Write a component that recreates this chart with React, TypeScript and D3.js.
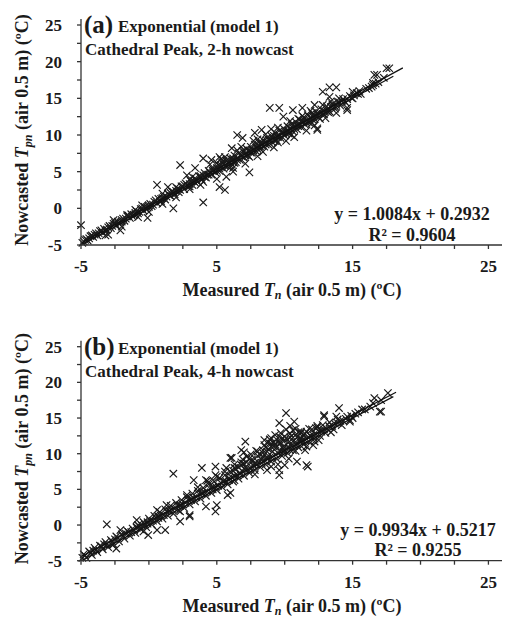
import React from "react";
import * as d3 from "d3";

// tick values shared by both panels
const xTickValues = [-5, 5, 15, 25];
const yTickValues = [-5, 0, 5, 10, 15, 20, 25];

// panel (a): 2-h nowcast, [measured, nowcasted]
const pointsA: [number, number][] = [
  [-4.8, -4.5], [-4.6, -4.2], [-4.5, -4.4], [-4.3, -3.8], [-4.1, -3.9], [-3.9, -3.4], [-3.8, -3.7], [-3.6, -3.1],
  [-3.4, -3.3], [-3.3, -2.8], [-3.1, -2.9], [-2.9, -2.4], [-2.8, -2.7], [-2.6, -2.1], [-2.4, -2.3], [-2.3, -1.8],
  [-2.1, -1.9], [-1.9, -1.4], [-1.8, -1.7], [-1.6, -1.1], [-1.4, -1.3], [-1.3, -0.8], [-1.1, -0.9], [-0.9, -0.4],
  [-0.8, -0.7], [-0.6, -0.1], [-0.4, -0.3], [-0.3, 0.2], [-0.1, 0.1], [0.1, 0.6], [0.2, 0.3], [0.4, 0.9],
  [0.6, 0.7], [0.7, 1.3], [0.9, 1.0], [1.1, 1.6], [1.2, 1.2], [1.4, 2.0], [1.6, 1.7], [1.7, 2.3],
  [1.9, 1.9], [2.1, 2.7], [2.2, 2.2], [2.4, 3.0], [2.6, 2.6], [2.7, 3.4], [2.9, 3.0], [3.1, 3.7],
  [3.2, 3.2], [3.4, 4.1], [3.6, 3.6], [3.7, 4.4], [3.9, 3.9], [4.1, 4.8], [4.2, 4.2], [4.4, 5.1],
  [4.6, 4.6], [4.7, 5.4], [4.9, 4.9], [5.1, 5.9], [5.2, 5.1], [5.4, 6.2], [5.5, 5.4], [5.7, 6.5],
  [5.8, 5.7], [6.0, 6.8], [6.1, 6.0], [6.3, 7.2], [6.4, 6.3], [6.6, 7.5], [6.7, 6.6], [6.9, 7.8],
  [7.0, 6.9], [7.2, 8.1], [7.3, 7.2], [7.5, 8.4], [7.6, 7.6], [7.8, 8.7], [7.9, 7.8], [8.1, 9.0],
  [8.2, 8.1], [8.4, 9.3], [8.5, 8.4], [8.7, 9.6], [8.8, 8.7], [9.0, 9.9], [9.1, 9.0], [9.3, 10.3],
  [9.4, 9.3], [9.6, 10.6], [9.7, 9.6], [9.9, 10.9], [10.0, 9.9], [10.2, 11.2], [10.3, 10.2], [10.5, 11.5],
  [10.6, 10.5], [10.8, 11.8], [10.9, 10.8], [11.1, 12.1], [11.2, 11.1], [11.4, 12.4], [11.5, 11.4], [11.7, 12.7],
  [11.8, 11.7], [12.0, 13.0], [12.1, 12.0], [12.3, 13.2], [12.5, 12.4], [12.7, 13.5], [12.9, 12.8], [13.1, 13.9],
  [13.3, 13.2], [13.5, 14.2], [13.7, 13.6], [13.9, 14.5], [14.1, 14.0], [14.3, 14.9], [14.5, 14.4], [14.8, 15.3],
  [15.0, 15.0], [15.3, 15.7], [15.6, 15.6], [16.0, 16.3], [16.4, 16.6], [16.9, 17.2], [17.3, 17.8],
  [-4.7, -4.3], [-4.4, -4.1], [-4.0, -3.6], [-3.7, -3.4], [-3.5, -3.0], [-3.2, -3.1], [-2.7, -2.4], [-2.5, -2.0],
  [-2.2, -2.1], [-2.0, -1.6], [-1.7, -1.4], [-1.5, -1.0], [-1.2, -1.1], [-1.0, -0.6], [-0.7, -0.5], [-0.5, 0.0],
  [-0.2, -0.1], [0.0, 0.4], [0.3, 0.5], [0.5, 1.1], [0.8, 0.9], [1.0, 1.4], [1.3, 1.6], [1.5, 1.8],
  [1.8, 2.2], [2.0, 2.4], [2.3, 2.5], [2.5, 3.0], [2.8, 3.2], [3.0, 3.3], [3.3, 3.7], [3.5, 3.9],
  [3.8, 4.2], [4.0, 4.5], [4.3, 4.6], [4.5, 4.9], [4.8, 5.2], [5.0, 5.5], [5.3, 5.6], [5.5, 6.0],
  [5.8, 6.2], [6.0, 6.3], [6.2, 6.6], [6.5, 6.9], [6.8, 7.1], [7.1, 7.5], [7.3, 7.8], [7.6, 8.0],
  [7.9, 8.3], [8.1, 8.5], [8.3, 8.8], [8.6, 9.0], [8.9, 9.3], [9.1, 9.5], [9.4, 9.8], [9.6, 10.0],
  [9.9, 10.3], [10.1, 10.5], [10.4, 10.8], [10.6, 11.0], [10.9, 11.3], [11.1, 11.5], [11.4, 11.8], [11.6, 12.0],
  [11.9, 12.3], [12.1, 12.5], [12.4, 12.8], [12.6, 13.0], [12.9, 13.3], [13.2, 13.6], [13.5, 13.9], [13.8, 14.1],
  [14.2, 14.6], [14.6, 14.9], [15.1, 15.4], [15.5, 16.0], [16.2, 16.4], [16.7, 17.0], [8.0, 9.4], [9.5, 9.0],
  [10.5, 10.0], [11.0, 12.2], [12.0, 11.6], [7.0, 7.9], [6.0, 5.6], [5.0, 6.2], [4.0, 3.6], [3.0, 2.6],
  [2.0, 2.9], [1.0, 0.6], [9.2, 9.9], [10.2, 10.6], [11.2, 11.9], [12.2, 12.6], [8.2, 8.4], [7.2, 7.3],
  [6.2, 6.8], [5.2, 5.4],
  [-4.9, -4.7], [-4.2, -3.7], [-3.0, -2.6], [-2.0, -1.8], [-1.0, -0.8], [0.0, 0.2], [0.9, 1.3], [1.6, 2.1],
  [2.2, 2.6], [2.6, 3.2], [3.0, 3.0], [3.4, 3.5], [3.8, 4.4], [4.1, 4.3], [4.4, 4.6], [4.7, 5.1],
  [5.0, 5.1], [5.3, 5.9], [5.6, 5.8], [5.9, 6.4], [6.2, 6.3], [6.5, 6.6], [6.8, 7.3], [7.1, 7.2],
  [7.4, 7.9], [7.7, 7.9], [8.0, 8.1], [8.3, 9.0], [8.6, 8.7], [8.9, 9.4], [9.2, 9.4], [9.5, 9.7],
  [9.8, 10.3], [10.1, 10.2], [10.4, 10.9], [10.7, 10.8], [11.0, 11.2], [11.3, 11.8], [11.6, 11.7], [11.9, 12.4],
  [12.2, 12.2], [12.5, 12.9], [12.8, 12.9], [13.1, 13.3], [13.4, 13.8], [13.7, 13.9], [14.0, 14.5], [14.4, 14.6],
  [14.9, 15.1], [15.4, 15.6], [5.5, 6.5], [6.3, 6.2], [7.5, 7.6], [8.7, 9.2], [9.3, 9.2], [10.3, 10.6],
  [10.8, 11.2], [11.8, 12.1], [12.3, 12.6], [13.2, 13.1],
  [4.5, 6.0], [5.0, 4.0], [5.6, 7.0], [6.2, 5.0], [6.8, 8.4], [7.1, 6.1], [7.7, 9.2], [8.0, 7.1],
  [8.6, 10.1], [9.2, 8.3], [9.5, 11.0], [10.1, 9.2], [10.4, 11.9], [10.7, 9.7], [11.3, 12.6], [11.6, 10.6],
  [11.9, 13.3], [12.2, 11.3], [12.8, 14.1], [13.0, 12.3], [13.4, 14.6], [13.8, 13.0], [6.5, 7.9], [7.4, 7.0],
  [8.3, 8.6], [9.8, 10.4], [11.0, 11.5], [3.0, 3.9], [2.0, 1.5], [1.0, 2.0], [0.0, -0.5], [-1.0, -0.2],
  [-2.0, -2.5], [3.8, 3.2], [5.3, 6.7], [9.0, 10.8], [12.6, 12.2],
  [-5.0, -2.3], [-3.2, -3.7], [-3.0, -3.6], [-2.1, -3.0], [-2.6, -1.6], [-1.6, -0.9], [-0.8, -1.2], [-0.1, -1.3],
  [-0.5, 0.4], [0.6, 3.2], [1.4, 2.9], [1.8, 0.0], [2.3, 5.9], [2.8, 4.5], [3.4, 5.5], [4.0, 6.8],
  [4.0, 0.8], [5.2, 2.9], [5.6, 2.5], [5.2, 7.0], [6.5, 10.0], [6.1, 8.2], [5.7, 4.3], [4.6, 6.6],
  [3.2, 4.3], [8.9, 13.7], [9.6, 13.7], [9.9, 12.5], [10.6, 13.4], [11.3, 13.7], [12.2, 14.1], [12.8, 15.9],
  [13.3, 16.5], [13.8, 16.5], [13.3, 15.2], [14.0, 15.0], [14.6, 13.7], [15.0, 15.9], [12.4, 10.7], [16.6, 18.2],
  [17.5, 19.1], [16.5, 17.1], [7.4, 4.9], [6.9, 9.6], [7.8, 10.3], [8.3, 10.7], [6.2, 5.5], [8.4, 7.7],
  [17.7, 19.1], [16.8, 18.2], [16.5, 16.8], [12.4, 10.9], [14.6, 13.4],
];

// panel (b): 4-h nowcast, [measured, nowcasted]
const pointsB: [number, number][] = [
  [-4.8, -4.1], [-4.6, -4.6], [-4.4, -3.7], [-4.2, -4.2], [-4.0, -3.2], [-3.8, -3.8], [-3.6, -2.9], [-3.4, -3.4],
  [-3.2, -2.4], [-3.0, -3.1], [-2.8, -2.1], [-2.6, -2.7], [-2.4, -1.6], [-2.2, -2.3], [-2.0, -1.3], [-1.8, -1.9],
  [-1.6, -0.8], [-1.4, -1.5], [-1.2, -0.5], [-1.0, -1.1], [-0.8, 0.0], [-0.6, -0.6], [-0.4, 0.4], [-0.2, -0.3],
  [0.0, 0.9], [0.2, 0.1], [0.4, 1.3], [0.6, 0.5], [0.8, 1.8], [1.0, 0.9], [1.2, 2.2], [1.4, 1.3],
  [1.6, 2.7], [1.8, 1.6], [2.0, 3.1], [2.2, 2.0], [2.4, 3.5], [2.6, 2.4], [2.8, 3.9], [3.0, 2.9],
  [3.2, 4.4], [3.4, 3.3], [3.6, 4.8], [3.8, 3.7], [4.0, 5.2], [4.2, 4.1], [4.4, 5.7], [4.6, 4.5],
  [4.8, 6.1], [5.0, 4.9], [5.2, 6.6], [5.4, 5.3], [5.6, 7.0], [5.8, 5.7], [6.0, 7.5], [6.2, 6.1],
  [6.4, 7.9], [6.6, 6.5], [6.8, 8.4], [7.0, 6.9], [7.2, 8.8], [7.4, 7.3], [7.6, 9.2], [7.8, 7.7],
  [8.0, 9.7], [8.2, 8.1], [8.4, 10.1], [8.6, 8.5], [8.8, 10.6], [9.0, 8.9], [9.2, 11.0], [9.4, 9.3],
  [9.6, 11.4], [9.8, 9.7], [10.0, 11.9], [10.2, 10.1], [10.4, 12.3], [10.6, 10.5], [10.8, 12.6], [11.0, 10.9],
  [11.2, 12.9], [11.4, 11.3], [11.6, 13.1], [11.8, 11.7], [12.0, 13.4], [12.2, 12.1], [12.4, 13.7], [12.6, 12.5],
  [12.8, 14.0], [13.0, 12.9], [13.3, 14.4], [13.6, 13.4], [13.9, 14.8], [14.2, 14.0], [14.6, 15.2], [15.0, 15.0],
  [15.4, 15.8], [15.9, 16.2], [16.5, 17.1], [17.1, 17.5],
  [-4.7, -4.3], [-4.3, -3.9], [-3.9, -3.5], [-3.5, -3.0], [-3.1, -2.7], [-2.7, -2.3], [-2.3, -1.8], [-1.9, -1.5],
  [-1.5, -1.0], [-1.1, -0.7], [-0.7, -0.2], [-0.3, 0.1], [0.1, 0.6], [0.5, 1.0], [0.9, 1.3], [1.3, 1.9],
  [1.7, 2.2], [2.1, 2.7], [2.5, 2.9], [2.9, 3.5], [3.3, 3.8], [3.7, 4.3], [4.1, 4.6], [4.5, 5.1],
  [4.9, 5.4], [5.3, 5.9], [5.7, 6.1], [6.1, 6.7], [6.5, 7.0], [6.9, 7.5], [7.3, 7.8], [7.7, 8.3],
  [8.1, 8.7], [8.5, 9.1], [8.9, 9.5], [9.3, 9.9], [9.7, 10.3], [10.1, 10.7], [10.5, 11.1], [10.9, 11.5],
  [11.3, 11.8], [11.7, 12.3], [12.1, 12.6], [12.5, 13.1], [12.9, 13.4], [13.3, 13.8], [13.7, 14.2], [14.1, 14.6],
  [14.5, 14.9], [15.2, 15.6], [15.7, 16.2], [16.3, 16.6], [8.0, 10.3], [8.6, 10.9], [9.2, 11.6], [9.8, 12.1],
  [10.4, 12.8], [11.0, 13.0], [9.0, 11.4], [9.6, 12.4], [10.2, 12.0], [7.4, 9.3], [6.8, 8.8], [6.2, 7.6],
  [5.6, 7.5], [8.8, 11.6], [10.6, 13.3], [11.4, 12.6], [7.0, 8.6], [9.4, 10.9], [10.0, 10.4], [8.2, 9.9],
  [11.8, 13.5], [12.4, 13.9], [5.0, 6.8], [4.4, 6.0], [3.6, 5.3], [7.8, 7.1], [9.0, 8.2], [10.8, 10.4],
  [11.6, 11.0], [12.2, 11.7],
  [-4.9, -4.6], [-4.1, -3.6], [-3.3, -2.7], [-2.5, -2.0], [-1.7, -1.2], [-0.9, -0.3], [-0.1, 0.4], [0.7, 1.2],
  [1.5, 2.0], [2.3, 2.7], [3.1, 3.5], [3.9, 4.4], [4.3, 4.7], [4.7, 5.3], [5.1, 5.5], [5.5, 6.1],
  [5.9, 6.3], [6.3, 6.9], [6.7, 7.2], [7.1, 7.7], [7.5, 7.9], [7.9, 8.5], [8.3, 8.7], [8.7, 9.3],
  [9.1, 9.5], [9.5, 10.1], [9.9, 10.3], [10.3, 10.9], [10.7, 11.1], [11.1, 11.7], [11.5, 11.9], [11.9, 12.5],
  [12.3, 12.7], [12.7, 13.3], [13.1, 13.5], [13.5, 13.9], [13.9, 14.3], [14.3, 14.6], [14.9, 15.3], [8.4, 10.5],
  [9.0, 11.0], [9.5, 11.8], [10.0, 12.4], [10.5, 12.5], [9.3, 11.3], [8.7, 10.3], [10.9, 12.3], [11.5, 12.8],
  [7.6, 8.9], [7.2, 9.6], [6.6, 8.1], [9.7, 11.6], [10.3, 11.6], [11.2, 12.1],
  [8.5, 11.2], [8.9, 12.0], [9.3, 12.6], [9.7, 12.9], [10.1, 13.4], [10.4, 13.9], [10.8, 13.5], [9.9, 11.0],
  [9.1, 10.3], [10.6, 11.7], [11.1, 12.2], [8.3, 9.2], [7.9, 10.4], [7.5, 9.9], [7.1, 8.1], [6.7, 7.2],
  [6.3, 8.5], [5.9, 6.6], [5.5, 6.2], [5.1, 5.6], [4.7, 5.0], [4.3, 6.2], [3.9, 4.5], [3.5, 3.9],
  [3.1, 3.6], [2.7, 3.1], [2.3, 2.8], [1.9, 2.3], [1.5, 1.9], [1.1, 1.4], [0.7, 1.0], [0.3, 0.6],
  [-0.1, 0.2], [-0.5, -0.1], [-0.9, -0.4], [-1.3, -1.0], [9.5, 8.5], [10.3, 9.3], [11.5, 10.5], [12.1, 11.2],
  [12.7, 13.1], [13.4, 13.0], [11.9, 12.5], [11.3, 11.9], [10.9, 11.3], [6.9, 9.2], [7.7, 8.4], [8.7, 9.5],
  [9.9, 10.7],
  [-3.1, 0.1], [-2.1, -0.7], [-2.4, -3.3], [-2.7, -2.8], [1.8, 7.2], [-0.05, -1.4], [-0.4, -0.9], [0.6, -0.7],
  [1.2, -0.7], [2.3, 0.5], [3.0, 1.2], [4.2, 2.6], [4.9, 1.9], [5.0, 2.8], [3.9, 8.0], [4.9, 8.2],
  [5.7, 8.0], [6.1, 9.4], [3.3, 6.3], [5.8, 4.2], [1.3, 2.8], [0.6, 2.1], [-0.9, 0.7], [2.3, 1.9],
  [3.0, 1.4], [2.8, 4.2], [4.2, 6.3], [4.9, 7.0], [10.1, 15.7], [9.6, 14.3], [10.7, 14.5], [7.1, 11.7],
  [6.0, 9.4], [7.0, 10.2], [6.3, 8.0], [6.3, 6.3], [6.0, 4.5], [9.6, 7.0], [10.9, 8.9], [11.7, 8.2],
  [12.9, 15.4], [14.0, 16.4], [13.8, 15.2], [12.3, 13.6], [14.8, 14.5], [16.6, 17.8], [17.1, 15.9], [17.6, 18.5],
  [8.5, 11.9], [9.0, 12.2], [11.2, 13.1], [8.4, 9.6], [7.8, 8.7], [10.0, 8.4], [8.7, 7.7], [9.6, 7.7],
  [10.4, 10.5], [12.5, 11.9], [13.3, 13.8], [14.8, 14.7], [6.8, 10.5], [12.9, 15.2], [17.0, 15.9], [11.6, 8.4],
];

const panels = [
  {
    key: "a",
    letter: "(a)",
    model: "Exponential (model 1)",
    site: "Cathedral Peak, 2-h nowcast",
    points: pointsA,
    slope: 1.0084,
    intercept: 0.2932,
    fitEnd: 18.7,
    equation: "y = 1.0084x + 0.2932",
    r2: "R² = 0.9604",
    top: 25,
    bottom: 245,
    eqX: 412,
  },
  {
    key: "b",
    letter: "(b)",
    model: "Exponential (model 1)",
    site: "Cathedral Peak, 4-h nowcast",
    points: pointsB,
    slope: 0.9934,
    intercept: 0.5217,
    fitEnd: 18.2,
    equation: "y = 0.9934x + 0.5217",
    r2: "R² = 0.9255",
    top: 346.7,
    bottom: 560.7,
    eqX: 418,
  },
];

const font = "'Liberation Serif', 'Times New Roman', serif";
const ink = "#1a1a1a";

const Panel = ({ p }: { p: (typeof panels)[number] }) => {
  const x = d3.scaleLinear().domain([-5, 26]).range([81, 502]);
  const y = d3.scaleLinear().domain([-5, 25]).range([p.bottom, p.top]);
  const minor = d3.range(-5, 25.01, 2.5);
  const line = d3
    .line<[number, number]>()
    .x((d) => x(d[0]))
    .y((d) => y(d[1]));
  const fitLine: [number, number][] = [
    [-5, p.slope * -5 + p.intercept],
    [p.fitEnd, p.slope * p.fitEnd + p.intercept],
  ];
  const oneToOne: [number, number][] = [
    [-5, -5],
    [18, 18],
  ];
  const midY = (p.top + p.bottom) / 2 - 5;

  return (
    <g fontFamily={font} fontWeight="bold" fill={ink}>
      {/* points */}
      <g stroke="#1a1a1a" strokeWidth={1.15} fill="none">
        {p.points.map((d, i) => (
          <path
            key={i}
            transform={`translate(${x(d[0])},${y(d[1])})`}
            d="M-3.7,-3.7L3.7,3.7M-3.7,3.7L3.7,-3.7"
          />
        ))}
      </g>
      <path d={line(oneToOne) ?? ""} stroke="#111" strokeWidth={1.2} fill="none" />
      <path d={line(fitLine) ?? ""} stroke="#111" strokeWidth={1.2} fill="none" />

      {/* axes */}
      <g stroke="#333" strokeWidth={1.3}>
        <line x1={x(-5)} x2={x(26)} y1={y(-5)} y2={y(-5)} />
        <line x1={x(-5)} x2={x(-5)} y1={y(-5)} y2={y(25) - 6} />
        {minor.map((t) => (
          <line key={"x" + t} x1={x(t)} x2={x(t)} y1={y(-5)} y2={y(-5) + 4} />
        ))}
        {minor.map((t) => (
          <line key={"y" + t} x1={x(-5) - 4} x2={x(-5)} y1={y(t)} y2={y(t)} />
        ))}
      </g>
      {xTickValues.map((t) => (
        <text key={t} x={x(t)} y={y(-5) + 27} textAnchor="middle" fontSize={17}>
          {t}
        </text>
      ))}
      {yTickValues.map((t) => (
        <text key={t} x={62} y={y(t) + 6} textAnchor="end" fontSize={17}>
          {t}
        </text>
      ))}

      {/* axis titles */}
      <text x={292} y={y(-5) + 51} textAnchor="middle" fontSize={18}>
        Measured <tspan fontStyle="italic">T</tspan>
        <tspan fontStyle="italic" fontSize={12} dy={3}>n</tspan>
        <tspan dy={-3}> (air 0.5 m) (ºC)</tspan>
      </text>
      <text transform={`translate(28,${midY}) rotate(-90)`} textAnchor="middle" fontSize={18}>
        Nowcasted <tspan fontStyle="italic">T</tspan>
        <tspan fontStyle="italic" fontSize={12} dy={4}>pn</tspan>
        <tspan dy={-4}> (air 0.5 m) (ºC)</tspan>
      </text>

      {/* panel titles */}
      <text x={84} y={p.top + 8} fontSize={25}>
        {p.letter}
      </text>
      <text x={118} y={p.top + 7} fontSize={17}>
        {p.model}
      </text>
      <text x={85} y={p.top + 30} fontSize={17}>
        {p.site}
      </text>

      {/* regression text */}
      <text x={p.eqX} y={p.bottom - 25} textAnchor="middle" fontSize={18}>
        {p.equation}
      </text>
      <text x={p.eqX} y={p.bottom - 4.5} textAnchor="middle" fontSize={18}>
        {p.r2}
      </text>
    </g>
  );
};

export default function App() {
  return (
    <svg
      width={505}
      height={619}
      style={{ position: "absolute", left: 0, top: 0, background: "#fff" }}
    >
      {panels.map((p) => (
        <Panel key={p.key} p={p} />
      ))}
    </svg>
  );
}
